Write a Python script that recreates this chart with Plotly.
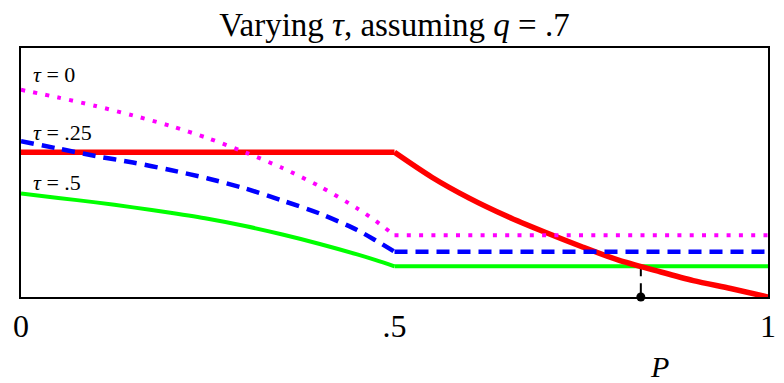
import numpy as np
import plotly.graph_objects as go

# Price grid for the left (curved) segment, shared by the three tau curves
p_left = [0.0, 0.05, 0.10, 0.15, 0.20, 0.25, 0.30, 0.35, 0.40, 0.45, 0.475, 0.5]

# Curves for each tau value, flat to the right of P = .5
tau0_left = [0.832, 0.801, 0.767, 0.729, 0.687, 0.638, 0.581, 0.518, 0.444, 0.356, 0.305, 0.248]
tau25_left = [0.626, 0.596, 0.566, 0.540, 0.510, 0.476, 0.436, 0.387, 0.335, 0.269, 0.227, 0.182]
tau5_left = [0.416, 0.398, 0.380, 0.360, 0.338, 0.314, 0.285, 0.251, 0.213, 0.171, 0.148, 0.123]

# Demand-side curve: flat up to P = .5, then decreasing to zero at P = 1
red_flat = 0.581
p_red = [0.5, 0.55, 0.60, 0.65, 0.70, 0.75, 0.80, 0.85, 0.90, 0.95, 1.0]
red_vals = [0.581, 0.481, 0.397, 0.325, 0.262, 0.203, 0.148, 0.106, 0.066, 0.034, 0.0]

tick_vals = [0, 0.5, 1]
tick_text = ["0", ".5", "1"]
tau_labels = ["<i>τ</i> = 0", "<i>τ</i> = .25", "<i>τ</i> = .5"]
tau_label_y = [0.894, 0.661, 0.460]

SERIF = "Liberation Serif"

# Crossing of the red curve with the flat part of the tau = .5 curve
green_flat = tau5_left[-1]
pr = np.array(p_red)
rv = np.array(red_vals)
idx = np.where((rv[:-1] >= green_flat) & (rv[1:] < green_flat))[0][0]
t = (rv[idx] - green_flat) / (rv[idx] - rv[idx + 1])
p_star = pr[idx] + t * (pr[idx + 1] - pr[idx])

fig = go.Figure()

fig.add_trace(go.Scatter(
    x=[p_star, p_star], y=[green_flat, 0], mode="lines",
    line=dict(color="black", width=2, dash="10px,7px"), hoverinfo="skip"))


def add_kinked(xs, ys, line):
    """Smooth curved part up to P = .5, then a straight flat segment."""
    fig.add_trace(go.Scatter(x=xs, y=ys, mode="lines",
                             line=dict(shape="spline", smoothing=0.8, **line)))
    fig.add_trace(go.Scatter(x=[xs[-1], 1.0], y=[ys[-1], ys[-1]], mode="lines",
                             line=line))


add_kinked(p_left, tau5_left, dict(color="#00ff00", width=4))

# red: flat piece, then the smooth decreasing piece
fig.add_trace(go.Scatter(x=[0.0, p_red[0]], y=[red_flat, red_flat], mode="lines",
                         line=dict(color="#ff0000", width=5.5)))
fig.add_trace(go.Scatter(x=p_red, y=red_vals, mode="lines",
                         line=dict(color="#ff0000", width=5.5,
                                   shape="spline", smoothing=0.8)))

add_kinked(p_left, tau25_left, dict(color="#0000ff", width=4.5, dash="13px,8px"))
add_kinked(p_left, tau0_left, dict(color="#ff00ff", width=4, dash="4px,8.3px"))

fig.add_trace(go.Scatter(x=[p_star], y=[0], mode="markers", cliponaxis=False,
                         marker=dict(color="black", size=9)))

annotations = []
for txt, yy in zip(tau_labels, tau_label_y):
    annotations.append(dict(
        x=0.013, y=yy, xref="x", yref="y", text=txt, showarrow=False,
        xanchor="left", yanchor="middle",
        font=dict(family=SERIF, size=22, color="black")))

annotations.append(dict(
    x=p_star, y=-0.279, xref="x", yref="paper", text="<i>P</i>",
    showarrow=False, xanchor="center", yanchor="middle", xshift=19,
    font=dict(family=SERIF, size=30, color="black")))

fig.update_layout(
    width=784, height=383,
    margin=dict(l=21, r=8, t=48, b=86),
    paper_bgcolor="white", plot_bgcolor="white",
    showlegend=False,
    title=dict(text="Varying <i>τ</i>, assuming <i>q</i> = .7",
               x=0.5, xref="paper", xanchor="center",
               y=1 - 24 / 383, yref="container", yanchor="middle",
               font=dict(family=SERIF, size=33, color="black")),
    annotations=annotations,
)

fig.update_xaxes(range=[0, 1], showgrid=False, zeroline=False,
                 showline=True, mirror=True, linecolor="black", linewidth=2,
                 tickvals=tick_vals, ticktext=tick_text, ticks="",
                 ticklabelstandoff=0,
                 tickfont=dict(family=SERIF, size=32, color="black"))
fig.update_yaxes(range=[0, 1], showgrid=False, zeroline=False,
                 showline=True, mirror=True, linecolor="black", linewidth=2,
                 showticklabels=False, ticks="")

fig.write_html("out.html")
